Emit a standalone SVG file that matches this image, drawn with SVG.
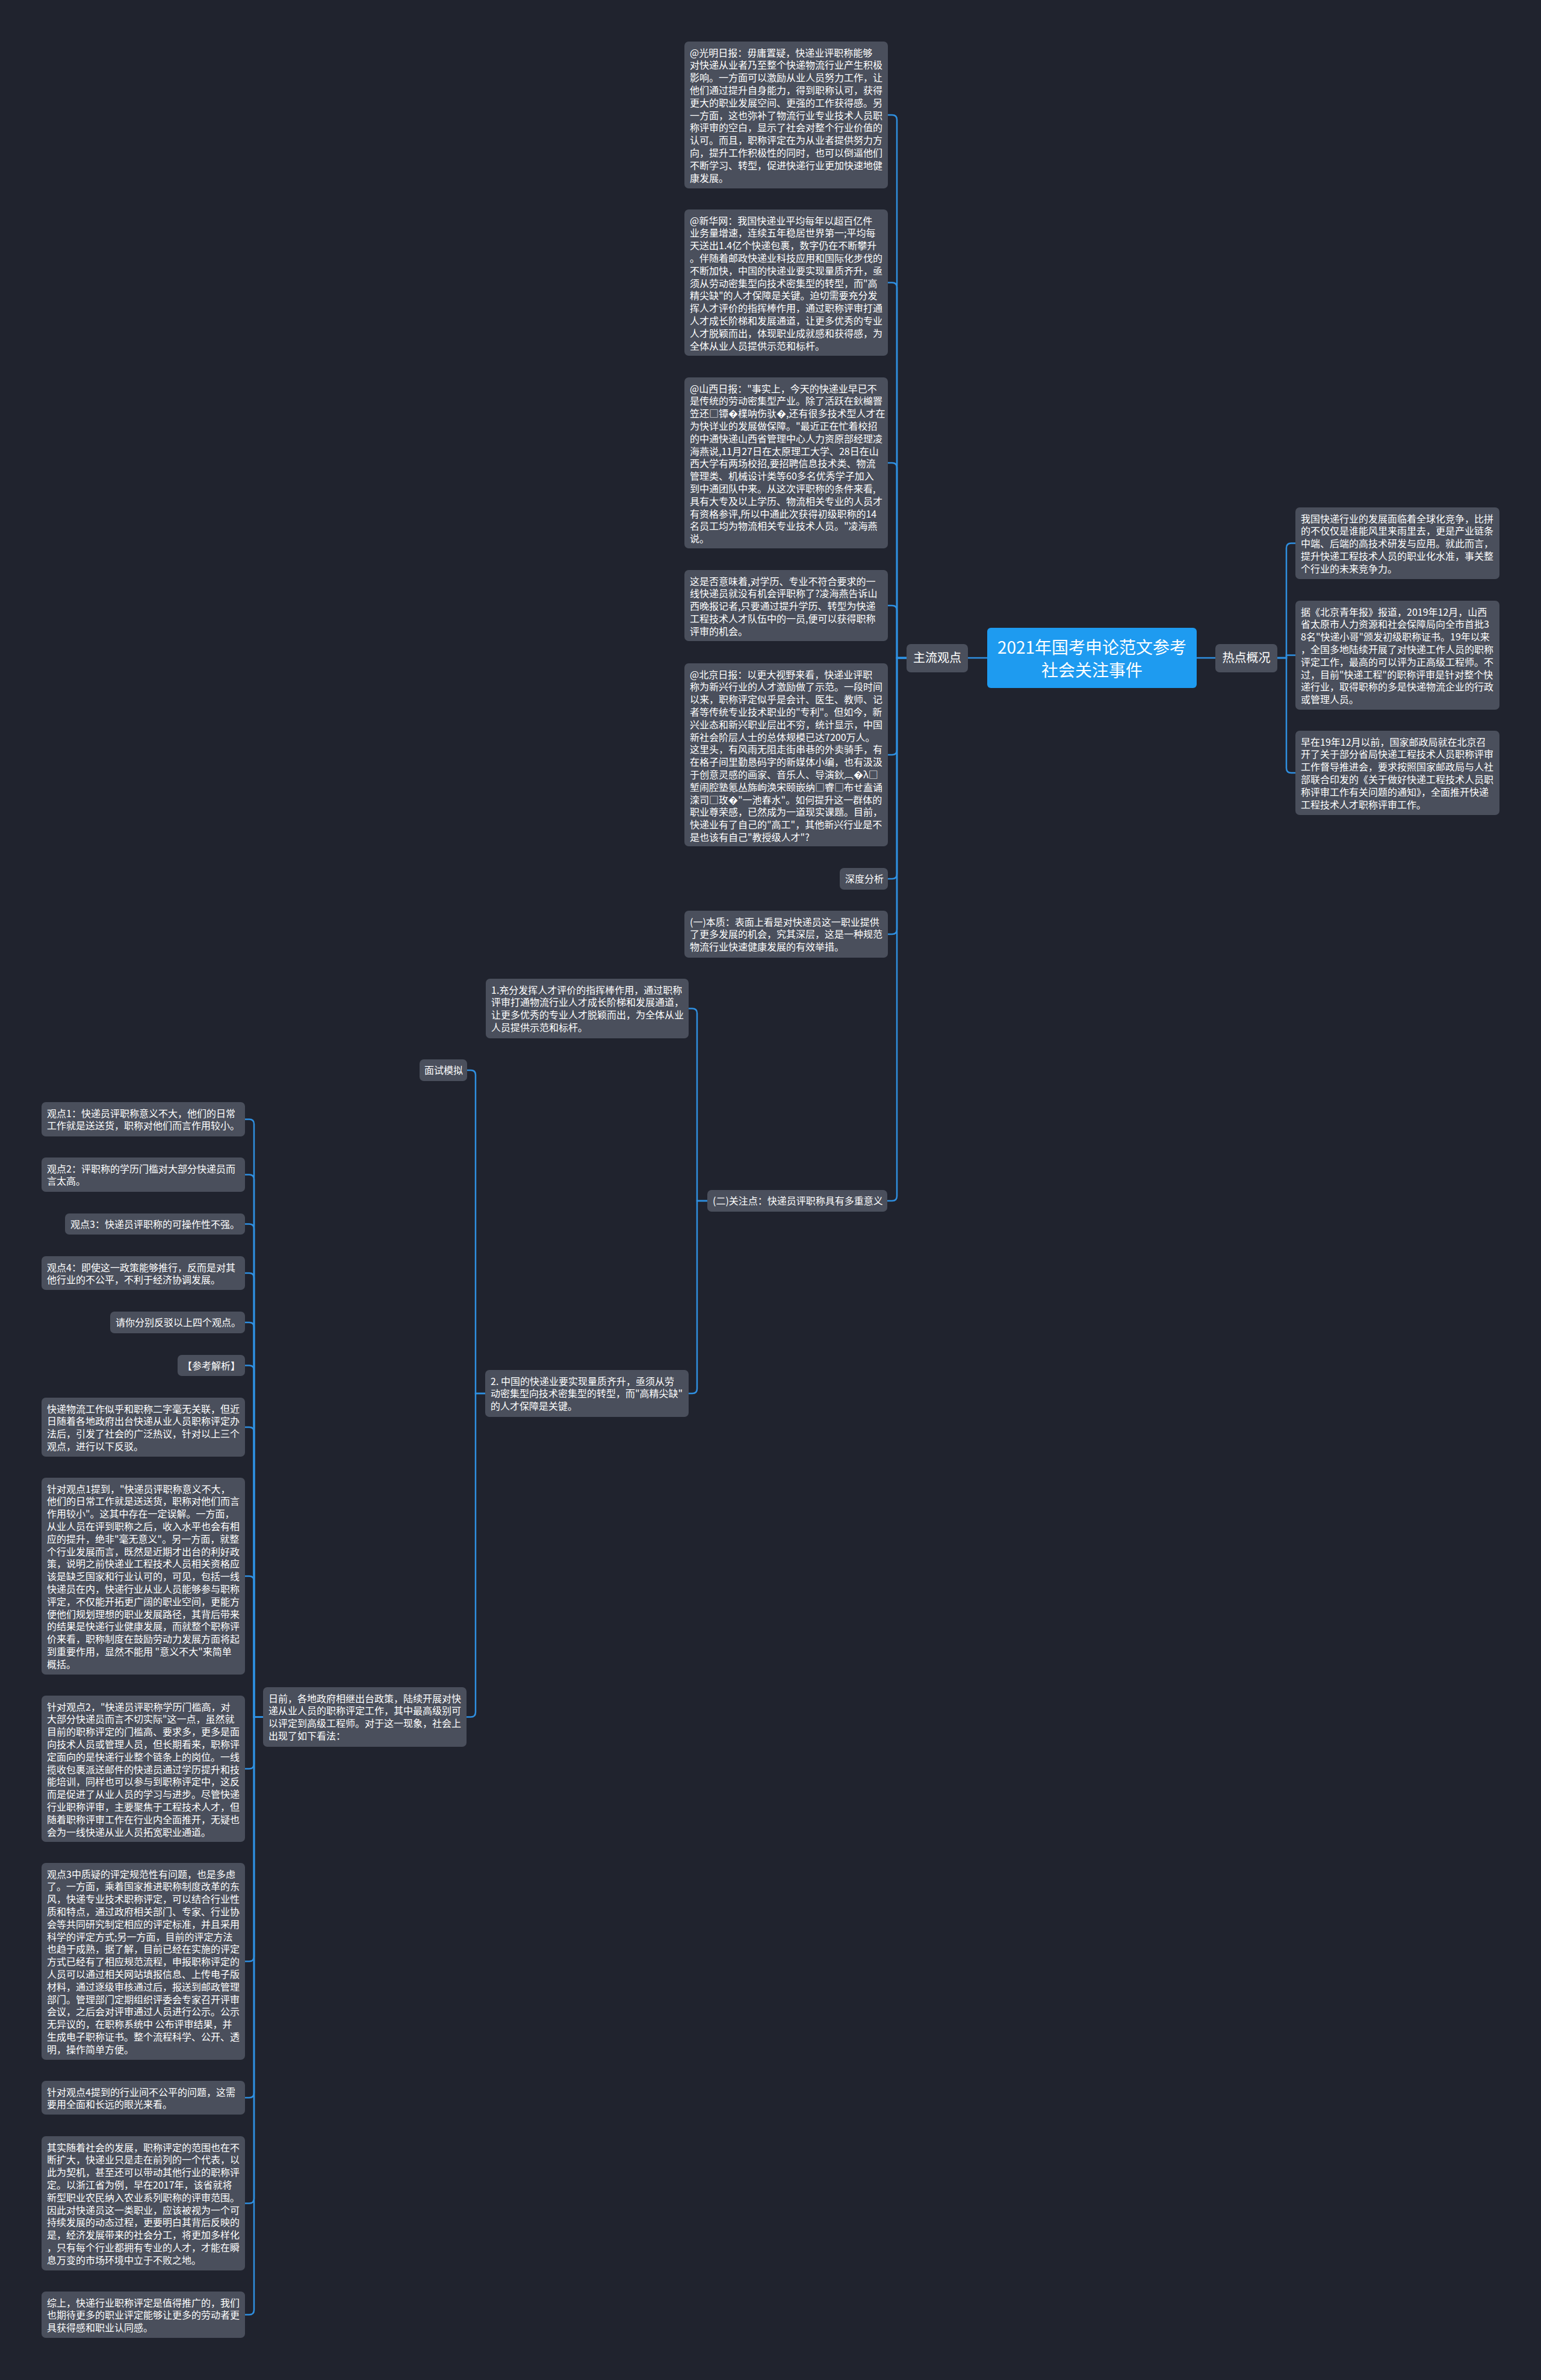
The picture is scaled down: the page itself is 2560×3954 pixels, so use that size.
<svg xmlns="http://www.w3.org/2000/svg" width="2560" height="3954" viewBox="0 0 2560 3954">
<style>
.bg{fill:#20232e}
.box{fill:#4a4f5c}
.root{fill:#1e9bf0}
.t{font-family:"Noto Sans CJK SC","Noto Sans",sans-serif;font-size:16px;fill:#ffffff}
.m{font-family:"Noto Sans CJK SC","Noto Sans",sans-serif;font-size:20px;fill:#ffffff}
.r{font-family:"Noto Sans CJK SC","Noto Sans",sans-serif;font-size:28px;fill:#ffffff}
.c{fill:none;stroke:#2f8fe0;stroke-width:2.5}
</style>
<rect class="bg" x="0" y="0" width="2560" height="3954"/>

<g id="connectors">
<path class="c" d="M1640 1093H1608"/>
<path class="c" d="M1988 1093H2019"/>
<path class="c" d="M1506 1093H1490V199Q1490 191 1482 191H1475"/>
<path class="c" d="M1506 1093H1490V477.5Q1490 469.5 1482 469.5H1475"/>
<path class="c" d="M1506 1093H1490V777Q1490 769 1482 769H1475"/>
<path class="c" d="M1506 1093H1490V1014Q1490 1006 1482 1006H1475"/>
<path class="c" d="M1506 1093H1490V1246Q1490 1254 1482 1254H1475"/>
<path class="c" d="M1506 1093H1490V1452Q1490 1460 1482 1460H1475"/>
<path class="c" d="M1506 1093H1490V1544Q1490 1552 1482 1552H1475"/>
<path class="c" d="M1506 1093H1490V1987Q1490 1995 1482 1995H1474"/>
<path class="c" d="M2122 1093H2137V910.5Q2137 902.5 2145 902.5H2152"/>
<path class="c" d="M2122 1093H2137V1088.5H2152"/>
<path class="c" d="M2122 1093H2137V1276Q2137 1284 2145 1284H2152"/>
<path class="c" d="M1175 1995H1158V1683.5Q1158 1675.5 1150 1675.5H1144"/>
<path class="c" d="M1175 1995H1158V2307Q1158 2315 1150 2315H1144"/>
<path class="c" d="M806 2315H790V1786Q790 1778 782 1778H776"/>
<path class="c" d="M806 2315H790V2844.5Q790 2852.5 782 2852.5H775"/>
<path class="c" d="M437 2852.5H422V1867.5Q422 1859.5 414 1859.5H407"/>
<path class="c" d="M437 2852.5H422V1959.5Q422 1951.5 414 1951.5H407"/>
<path class="c" d="M437 2852.5H422V2041.5Q422 2033.5 414 2033.5H407"/>
<path class="c" d="M437 2852.5H422V2123Q422 2115 414 2115H407"/>
<path class="c" d="M437 2852.5H422V2205Q422 2197 414 2197H407"/>
<path class="c" d="M437 2852.5H422V2276.5Q422 2268.5 414 2268.5H407"/>
<path class="c" d="M437 2852.5H422V2379Q422 2371 414 2371H407"/>
<path class="c" d="M437 2852.5H422V2626.5Q422 2618.5 414 2618.5H407"/>
<path class="c" d="M437 2852.5H422V2930.5Q422 2938.5 414 2938.5H407"/>
<path class="c" d="M437 2852.5H422V3250.5Q422 3258.5 414 3258.5H407"/>
<path class="c" d="M437 2852.5H422V3477Q422 3485 414 3485H407"/>
<path class="c" d="M437 2852.5H422V3652.5Q422 3660.5 414 3660.5H407"/>
<path class="c" d="M437 2852.5H422V3837.5Q422 3845.5 414 3845.5H407"/>
</g>

<g id="root">
<rect class="root" x="1640" y="1043" width="348" height="100" rx="6"/>
<text class="r" text-anchor="middle"><tspan x="1814" y="1085.5">2021年国考申论范文参考</tspan><tspan x="1814" y="1123.5">社会关注事件</tspan></text>
</g>

<g id="zhuliu">
<rect class="box" x="1506" y="1070" width="102" height="47" rx="7"/>
<text class="m" x="1557" y="1100" text-anchor="middle">主流观点</text>
</g>

<g id="redian">
<rect class="box" x="2019" y="1070" width="103" height="47" rx="7"/>
<text class="m" x="2070.5" y="1100" text-anchor="middle">热点概况</text>
</g>

<g id="r1">
<rect class="box" x="2152" y="843" width="339" height="119" rx="7"/>
<text class="t"><tspan x="2161" y="867.5">我国快递行业的发展面临着全球化竞争，比拼</tspan><tspan x="2161" dy="20.8">的不仅仅是谁能风里来雨里去，更是产业链条</tspan><tspan x="2161" dy="20.8">中端、后端的高技术研发与应用。就此而言，</tspan><tspan x="2161" dy="20.8">提升快递工程技术人员的职业化水准，事关整</tspan><tspan x="2161" dy="20.8">个行业的未来竞争力。</tspan></text>
</g>

<g id="r2">
<rect class="box" x="2152" y="998" width="339" height="181" rx="7"/>
<text class="t"><tspan x="2161" y="1022.5">据《北京青年报》报道，2019年12月，山西</tspan><tspan x="2161" dy="20.8">省太原市人力资源和社会保障局向全市首批3</tspan><tspan x="2161" dy="20.8">8名"快递小哥"颁发初级职称证书。19年以来</tspan><tspan x="2161" dy="20.8">，全国多地陆续开展了对快递工作人员的职称</tspan><tspan x="2161" dy="20.8">评定工作，最高的可以评为正高级工程师。不</tspan><tspan x="2161" dy="20.8">过，目前"快递工程"的职称评审是针对整个快</tspan><tspan x="2161" dy="20.8">递行业，取得职称的多是快递物流企业的行政</tspan><tspan x="2161" dy="20.8">或管理人员。</tspan></text>
</g>

<g id="r3">
<rect class="box" x="2152" y="1214" width="339" height="140" rx="7"/>
<text class="t"><tspan x="2161" y="1238.5">早在19年12月以前，国家邮政局就在北京召</tspan><tspan x="2161" dy="20.8">开了关于部分省局快递工程技术人员职称评审</tspan><tspan x="2161" dy="20.8">工作督导推进会，要求按照国家邮政局与人社</tspan><tspan x="2161" dy="20.8">部联合印发的《关于做好快递工程技术人员职</tspan><tspan x="2161" dy="20.8">称评审工作有关问题的通知》，全面推开快递</tspan><tspan x="2161" dy="20.8">工程技术人才职称评审工作。</tspan></text>
</g>

<g id="m1">
<rect class="box" x="1137" y="69" width="338" height="244" rx="7"/>
<text class="t"><tspan x="1146" y="93.5">@光明日报：毋庸置疑，快递业评职称能够</tspan><tspan x="1146" dy="20.8">对快递从业者乃至整个快递物流行业产生积极</tspan><tspan x="1146" dy="20.8">影响。一方面可以激励从业人员努力工作，让</tspan><tspan x="1146" dy="20.8">他们通过提升自身能力，得到职称认可，获得</tspan><tspan x="1146" dy="20.8">更大的职业发展空间、更强的工作获得感。另</tspan><tspan x="1146" dy="20.8">一方面，这也弥补了物流行业专业技术人员职</tspan><tspan x="1146" dy="20.8">称评审的空白，显示了社会对整个行业价值的</tspan><tspan x="1146" dy="20.8">认可。而且，职称评定在为从业者提供努力方</tspan><tspan x="1146" dy="20.8">向，提升工作积极性的同时，也可以倒逼他们</tspan><tspan x="1146" dy="20.8">不断学习、转型，促进快递行业更加快速地健</tspan><tspan x="1146" dy="20.8">康发展。</tspan></text>
</g>

<g id="m2">
<rect class="box" x="1137" y="348" width="338" height="243" rx="7"/>
<text class="t"><tspan x="1146" y="372.5">@新华网：我国快递业平均每年以超百亿件</tspan><tspan x="1146" dy="20.8">业务量增速，连续五年稳居世界第一;平均每</tspan><tspan x="1146" dy="20.8">天送出1.4亿个快递包裹，数字仍在不断攀升</tspan><tspan x="1146" dy="20.8">。伴随着邮政快递业科技应用和国际化步伐的</tspan><tspan x="1146" dy="20.8">不断加快，中国的快递业要实现量质齐升，亟</tspan><tspan x="1146" dy="20.8">须从劳动密集型向技术密集型的转型，而"高</tspan><tspan x="1146" dy="20.8">精尖缺"的人才保障是关键。迫切需要充分发</tspan><tspan x="1146" dy="20.8">挥人才评价的指挥棒作用，通过职称评审打通</tspan><tspan x="1146" dy="20.8">人才成长阶梯和发展通道，让更多优秀的专业</tspan><tspan x="1146" dy="20.8">人才脱颖而出，体现职业成就感和获得感，为</tspan><tspan x="1146" dy="20.8">全体从业人员提供示范和标杆。</tspan></text>
</g>

<g id="m3">
<rect class="box" x="1137" y="627" width="338" height="284" rx="7"/>
<text class="t"><tspan x="1146" y="651.5">@山西日报："事实上，今天的快递业早已不</tspan><tspan x="1146" dy="20.8">是传统的劳动密集型产业。除了活跃在鈥檰罯</tspan><tspan x="1146" dy="20.8">笠还□镡�檏呐伤驮�,还有很多技术型人才在</tspan><tspan x="1146" dy="20.8">为快详业的发展做保障。"最近正在忙着校招</tspan><tspan x="1146" dy="20.8">的中通快递山西省管理中心人力资原部经理凌</tspan><tspan x="1146" dy="20.8">海燕说,11月27日在太原理工大学、28日在山</tspan><tspan x="1146" dy="20.8">西大学有两场校招,要招聘信息技术类、物流</tspan><tspan x="1146" dy="20.8">管理类、机械设计类等60多名优秀学子加入</tspan><tspan x="1146" dy="20.8">到中通团队中来。从这次评职称的条件来看,</tspan><tspan x="1146" dy="20.8">具有大专及以上学历、物流相关专业的人员才</tspan><tspan x="1146" dy="20.8">有资格参评,所以中通此次获得初级职称的14</tspan><tspan x="1146" dy="20.8">名员工均为物流相关专业技术人员。"凌海燕</tspan><tspan x="1146" dy="20.8">说。</tspan></text>
</g>

<g id="m4">
<rect class="box" x="1137" y="947" width="338" height="118" rx="7"/>
<text class="t"><tspan x="1146" y="971.5">这是否意味着,对学历、专业不符合要求的一</tspan><tspan x="1146" dy="20.8">线快递员就没有机会评职称了?凌海燕告诉山</tspan><tspan x="1146" dy="20.8">西晚报记者,只要通过提升学历、转型为快递</tspan><tspan x="1146" dy="20.8">工程技术人才队伍中的一员,便可以获得职称</tspan><tspan x="1146" dy="20.8">评审的机会。</tspan></text>
</g>

<g id="m5">
<rect class="box" x="1137" y="1102" width="338" height="304" rx="7"/>
<text class="t"><tspan x="1146" y="1126.5">@北京日报：以更大视野来看，快递业评职</tspan><tspan x="1146" dy="20.8">称为新兴行业的人才激励做了示范。一段时间</tspan><tspan x="1146" dy="20.8">以来，职称评定似乎是会计、医生、教师、记</tspan><tspan x="1146" dy="20.8">者等传统专业技术职业的"专利"。但如今，新</tspan><tspan x="1146" dy="20.8">兴业态和新兴职业层出不穷，统计显示，中国</tspan><tspan x="1146" dy="20.8">新社会阶层人士的总体规模已达7200万人。</tspan><tspan x="1146" dy="20.8">这里头，有风雨无阻走街串巷的外卖骑手，有</tspan><tspan x="1146" dy="20.8">在格子间里勤恳码字的新媒体小编，也有汲汲</tspan><tspan x="1146" dy="20.8">于创意灵感的画家、音乐人、导演鈥︹�λ□</tspan><tspan x="1146" dy="20.8">堑闹腔塾氪丛旆岣涣宋颐嵌纳□睿□布せ盍诵</tspan><tspan x="1146" dy="20.8">滦司□玫�"一池春水"。如何提升这一群体的</tspan><tspan x="1146" dy="20.8">职业尊荣感，已然成为一道现实课题。目前，</tspan><tspan x="1146" dy="20.8">快递业有了自己的"高工"，其他新兴行业是不</tspan><tspan x="1146" dy="20.8">是也该有自己"教授级人才"?</tspan></text>
</g>

<g id="m6">
<rect class="box" x="1395" y="1442" width="80" height="36" rx="7"/>
<text class="t" x="1404" y="1466">深度分析</text>
</g>

<g id="m7">
<rect class="box" x="1137" y="1513" width="338" height="78" rx="7"/>
<text class="t"><tspan x="1146" y="1537.5">(一)本质：表面上看是对快递员这一职业提供</tspan><tspan x="1146" dy="20.8">了更多发展的机会，究其深层，这是一种规范</tspan><tspan x="1146" dy="20.8">物流行业快速健康发展的有效举措。</tspan></text>
</g>

<g id="m8">
<rect class="box" x="1175" y="1977" width="299" height="36" rx="7"/>
<text class="t" x="1184" y="2001">(二)关注点：快递员评职称具有多重意义</text>
</g>

<g id="p1">
<rect class="box" x="807" y="1626" width="337" height="99" rx="7"/>
<text class="t"><tspan x="816" y="1650.5">1.充分发挥人才评价的指挥棒作用，通过职称</tspan><tspan x="816" dy="20.8">评审打通物流行业人才成长阶梯和发展通道，</tspan><tspan x="816" dy="20.8">让更多优秀的专业人才脱颖而出，为全体从业</tspan><tspan x="816" dy="20.8">人员提供示范和标杆。</tspan></text>
</g>

<g id="p2">
<rect class="box" x="806" y="2276" width="338" height="78" rx="7"/>
<text class="t"><tspan x="815" y="2300.5">2. 中国的快递业要实现量质齐升，亟须从劳</tspan><tspan x="815" dy="20.8">动密集型向技术密集型的转型，而"高精尖缺"</tspan><tspan x="815" dy="20.8">的人才保障是关键。</tspan></text>
</g>

<g id="mianshi">
<rect class="box" x="697" y="1760" width="79" height="36" rx="7"/>
<text class="t" x="705" y="1784">面试模拟</text>
</g>

<g id="muqian">
<rect class="box" x="437" y="2803" width="338" height="99" rx="7"/>
<text class="t"><tspan x="446" y="2827.5">日前，各地政府相继出台政策，陆续开展对快</tspan><tspan x="446" dy="20.8">递从业人员的职称评定工作，其中最高级别可</tspan><tspan x="446" dy="20.8">以评定到高级工程师。对于这一现象，社会上</tspan><tspan x="446" dy="20.8">出现了如下看法：</tspan></text>
</g>

<g id="l1">
<rect class="box" x="69" y="1831" width="338" height="57" rx="7"/>
<text class="t"><tspan x="78" y="1855.5">观点1：快递员评职称意义不大，他们的日常</tspan><tspan x="78" dy="20.8">工作就是送送货，职称对他们而言作用较小。</tspan></text>
</g>

<g id="l2">
<rect class="box" x="69" y="1923" width="338" height="57" rx="7"/>
<text class="t"><tspan x="78" y="1947.5">观点2：评职称的学历门槛对大部分快递员而</tspan><tspan x="78" dy="20.8">言太高。</tspan></text>
</g>

<g id="l3">
<rect class="box" x="108" y="2016" width="299" height="35" rx="7"/>
<text class="t" x="117" y="2039.5">观点3：快递员评职称的可操作性不强。</text>
</g>

<g id="l4">
<rect class="box" x="69" y="2087" width="338" height="56" rx="7"/>
<text class="t"><tspan x="78" y="2111.5">观点4：即使这一政策能够推行，反而是对其</tspan><tspan x="78" dy="20.8">他行业的不公平，不利于经济协调发展。</tspan></text>
</g>

<g id="l5">
<rect class="box" x="183" y="2179" width="224" height="36" rx="7"/>
<text class="t" x="192" y="2203">请你分别反驳以上四个观点。</text>
</g>

<g id="l6">
<rect class="box" x="295" y="2251" width="112" height="35" rx="7"/>
<text class="t" x="303" y="2274.5">【参考解析】</text>
</g>

<g id="l7">
<rect class="box" x="69" y="2322" width="338" height="98" rx="7"/>
<text class="t"><tspan x="78" y="2346.5">快递物流工作似乎和职称二字毫无关联，但近</tspan><tspan x="78" dy="20.8">日随着各地政府出台快递从业人员职称评定办</tspan><tspan x="78" dy="20.8">法后，引发了社会的广泛热议，针对以上三个</tspan><tspan x="78" dy="20.8">观点，进行以下反驳。</tspan></text>
</g>

<g id="l8">
<rect class="box" x="69" y="2455" width="338" height="327" rx="7"/>
<text class="t"><tspan x="78" y="2479.5">针对观点1提到，"快递员评职称意义不大，</tspan><tspan x="78" dy="20.8">他们的日常工作就是送送货，职称对他们而言</tspan><tspan x="78" dy="20.8">作用较小"。这其中存在一定误解。一方面，</tspan><tspan x="78" dy="20.8">从业人员在评到职称之后，收入水平也会有相</tspan><tspan x="78" dy="20.8">应的提升，绝非"毫无意义"。另一方面，就整</tspan><tspan x="78" dy="20.8">个行业发展而言，既然是近期才出台的利好政</tspan><tspan x="78" dy="20.8">策，说明之前快递业工程技术人员相关资格应</tspan><tspan x="78" dy="20.8">该是缺乏国家和行业认可的，可见，包括一线</tspan><tspan x="78" dy="20.8">快递员在内，快递行业从业人员能够参与职称</tspan><tspan x="78" dy="20.8">评定，不仅能开拓更广阔的职业空间，更能方</tspan><tspan x="78" dy="20.8">便他们规划理想的职业发展路径，其背后带来</tspan><tspan x="78" dy="20.8">的结果是快递行业健康发展，而就整个职称评</tspan><tspan x="78" dy="20.8">价来看，职称制度在鼓励劳动力发展方面将起</tspan><tspan x="78" dy="20.8">到重要作用，显然不能用 "意义不大"来简单</tspan><tspan x="78" dy="20.8">概括。</tspan></text>
</g>

<g id="l9">
<rect class="box" x="69" y="2817" width="338" height="243" rx="7"/>
<text class="t"><tspan x="78" y="2841.5">针对观点2，"快递员评职称学历门槛高，对</tspan><tspan x="78" dy="20.8">大部分快递员而言不切实际"这一点，虽然就</tspan><tspan x="78" dy="20.8">目前的职称评定的门槛高、要求多，更多是面</tspan><tspan x="78" dy="20.8">向技术人员或管理人员，但长期看来，职称评</tspan><tspan x="78" dy="20.8">定面向的是快递行业整个链条上的岗位。一线</tspan><tspan x="78" dy="20.8">揽收包裹派送邮件的快递员通过学历提升和技</tspan><tspan x="78" dy="20.8">能培训，同样也可以参与到职称评定中，这反</tspan><tspan x="78" dy="20.8">而是促进了从业人员的学习与进步。尽管快递</tspan><tspan x="78" dy="20.8">行业职称评审，主要聚焦于工程技术人才，但</tspan><tspan x="78" dy="20.8">随着职称评审工作在行业内全面推开，无疑也</tspan><tspan x="78" dy="20.8">会为一线快递从业人员拓宽职业通道。</tspan></text>
</g>

<g id="l10">
<rect class="box" x="69" y="3095" width="338" height="327" rx="7"/>
<text class="t"><tspan x="78" y="3119.5">观点3中质疑的评定规范性有问题，也是多虑</tspan><tspan x="78" dy="20.8">了。一方面，乘着国家推进职称制度改革的东</tspan><tspan x="78" dy="20.8">风，快递专业技术职称评定，可以结合行业性</tspan><tspan x="78" dy="20.8">质和特点，通过政府相关部门、专家、行业协</tspan><tspan x="78" dy="20.8">会等共同研究制定相应的评定标准，并且采用</tspan><tspan x="78" dy="20.8">科学的评定方式;另一方面，目前的评定方法</tspan><tspan x="78" dy="20.8">也趋于成熟，据了解，目前已经在实施的评定</tspan><tspan x="78" dy="20.8">方式已经有了相应规范流程，申报职称评定的</tspan><tspan x="78" dy="20.8">人员可以通过相关网站填报信息、上传电子版</tspan><tspan x="78" dy="20.8">材料，通过逐级审核通过后，报送到邮政管理</tspan><tspan x="78" dy="20.8">部门。管理部门定期组织评委会专家召开评审</tspan><tspan x="78" dy="20.8">会议，之后会对评审通过人员进行公示。公示</tspan><tspan x="78" dy="20.8">无异议的，在职称系统中 公布评审结果，并</tspan><tspan x="78" dy="20.8">生成电子职称证书。整个流程科学、公开、透</tspan><tspan x="78" dy="20.8">明，操作简单方便。</tspan></text>
</g>

<g id="l11">
<rect class="box" x="69" y="3457" width="338" height="56" rx="7"/>
<text class="t"><tspan x="78" y="3481.5">针对观点4提到的行业间不公平的问题，这需</tspan><tspan x="78" dy="20.8">要用全面和长远的眼光来看。</tspan></text>
</g>

<g id="l12">
<rect class="box" x="69" y="3549" width="338" height="223" rx="7"/>
<text class="t"><tspan x="78" y="3573.5">其实随着社会的发展，职称评定的范围也在不</tspan><tspan x="78" dy="20.8">断扩大，快递业只是走在前列的一个代表，以</tspan><tspan x="78" dy="20.8">此为契机，甚至还可以带动其他行业的职称评</tspan><tspan x="78" dy="20.8">定。以浙江省为例，早在2017年，该省就将</tspan><tspan x="78" dy="20.8">新型职业农民纳入农业系列职称的评审范围。</tspan><tspan x="78" dy="20.8">因此对快递员这一类职业，应该被视为一个可</tspan><tspan x="78" dy="20.8">持续发展的动态过程，更要明白其背后反映的</tspan><tspan x="78" dy="20.8">是，经济发展带来的社会分工，将更加多样化</tspan><tspan x="78" dy="20.8">，只有每个行业都拥有专业的人才，才能在瞬</tspan><tspan x="78" dy="20.8">息万变的市场环境中立于不败之地。</tspan></text>
</g>

<g id="l13">
<rect class="box" x="69" y="3807" width="338" height="77" rx="7"/>
<text class="t"><tspan x="78" y="3831.5">综上，快递行业职称评定是值得推广的，我们</tspan><tspan x="78" dy="20.8">也期待更多的职业评定能够让更多的劳动者更</tspan><tspan x="78" dy="20.8">具获得感和职业认同感。</tspan></text>
</g>
</svg>
